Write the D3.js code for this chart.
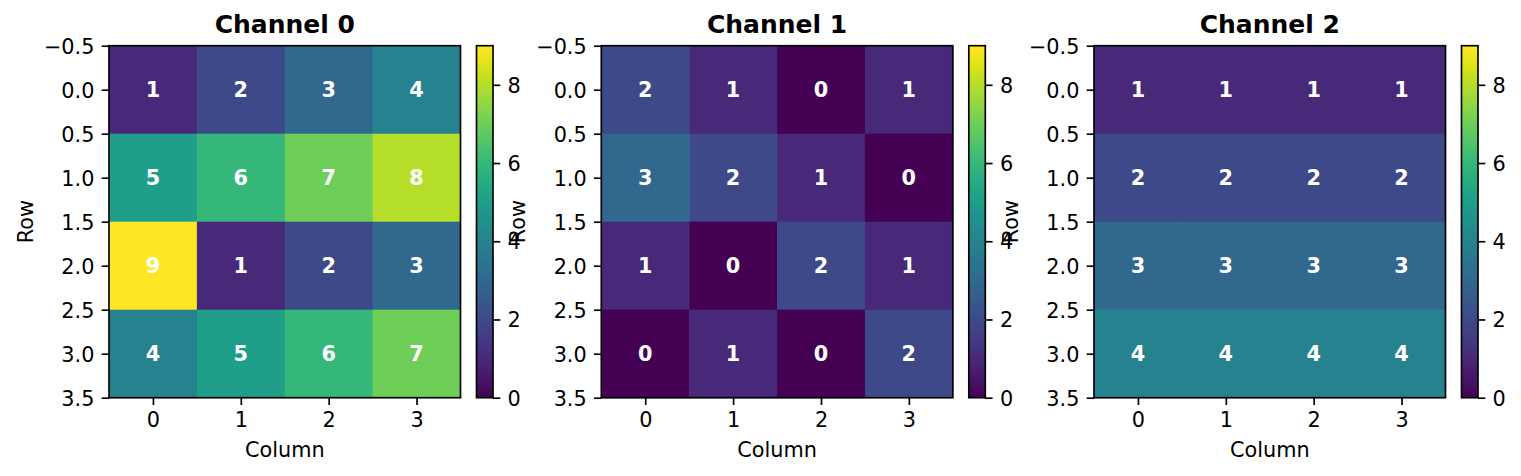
<!DOCTYPE html>
<html><head><meta charset="utf-8">
<script src="https://cdn.jsdelivr.net/npm/d3@7"></script>
<style>html,body{margin:0;padding:0;background:#fff;} svg{display:block;}</style>
</head><body>
<script>
const titles = ["Channel 0", "Channel 1", "Channel 2"];
const channel0 = [[1,2,3,4],[5,6,7,8],[9,1,2,3],[4,5,6,7]];
const channel1 = [[2,1,0,1],[3,2,1,0],[1,0,2,1],[0,1,0,2]];
const channel2 = [[1,1,1,1],[2,2,2,2],[3,3,3,3],[4,4,4,4]];
const channels = [channel0, channel1, channel2];
const xTicks = [0,1,2,3];
const yTicks = [-0.5,0,0.5,1,1.5,2,2.5,3,3.5];
const cbTicks = [0,2,4,6,8];
const vmin = 0, vmax = 9;
const xLabel = "Column", yLabel = "Row";

const W = 1521, H = 476;
const svg = d3.select("body").append("svg").attr("width", W).attr("height", H)
  .style("font-family", "'DejaVu Sans', sans-serif");

const axW = 351.5, axH = 352, axTop = 45.7;
const lefts = [109, 601.3, 1094];
const cbGap = 16, cbW = 16.5;
const lw = 1.67, tickLen = 7.3, pad = 7.3, fs = 20.8;
const color = v => d3.interpolateViridis((v - vmin) / (vmax - vmin));

const defs = svg.append("defs");
const grad = defs.append("linearGradient").attr("id", "vir")
  .attr("x1", 0).attr("y1", 1).attr("x2", 0).attr("y2", 0);
d3.range(0, 1.0001, 1/64).forEach(t => {
  grad.append("stop").attr("offset", t).attr("stop-color", d3.interpolateViridis(t));
});

channels.forEach((data, k) => {
  const L = lefts[k];
  const g = svg.append("g");
  const x = d3.scaleLinear().domain([-0.5, 3.5]).range([L, L + axW]);
  const y = d3.scaleLinear().domain([-0.5, 3.5]).range([axTop, axTop + axH]);
  const cells = [];
  data.forEach((row, r) => row.forEach((v, c) => cells.push({r, c, v})));
  g.selectAll("rect.cell").data(cells).join("rect")
    .attr("x", d => x(d.c - 0.5)).attr("y", d => y(d.r - 0.5))
    .attr("width", d => x(d.c + 0.5) - x(d.c - 0.5) + 0.5)
    .attr("height", d => y(d.r + 0.5) - y(d.r - 0.5) + 0.5)
    .attr("fill", d => color(d.v));
  g.selectAll("text.ann").data(cells).join("text")
    .attr("x", d => x(d.c)).attr("y", d => y(d.r)).attr("dy", "0.36em")
    .attr("text-anchor", "middle").attr("fill", "#fff")
    .attr("font-weight", "bold").attr("font-size", fs)
    .text(d => d.v);
  g.append("rect").attr("x", L).attr("y", axTop).attr("width", axW).attr("height", axH)
    .attr("fill", "none").attr("stroke", "#000").attr("stroke-width", lw);
  const xa = g.append("g").attr("transform", `translate(0,${axTop + axH})`)
    .call(d3.axisBottom(x).tickValues(xTicks).tickFormat(d3.format("d"))
      .tickSize(tickLen).tickPadding(pad));
  xa.select(".domain").remove();
  xa.selectAll("line").attr("stroke-width", lw);
  xa.selectAll("text").attr("font-size", fs).attr("font-family", "'DejaVu Sans', sans-serif")
    .attr("fill", "#000").attr("dy", "0.73em");
  const ya = g.append("g").attr("transform", `translate(${L},0)`)
    .call(d3.axisLeft(y).tickValues(yTicks).tickFormat(d3.format(".1f"))
      .tickSize(tickLen).tickPadding(pad));
  ya.select(".domain").remove();
  ya.selectAll("line").attr("stroke-width", lw);
  ya.selectAll("text").attr("font-size", fs).attr("font-family", "'DejaVu Sans', sans-serif")
    .attr("fill", "#000").attr("dy", "0.36em");
  g.append("text").attr("x", L + axW / 2).attr("y", axTop - 12.5)
    .attr("text-anchor", "middle").attr("font-weight", "bold").attr("font-size", 25)
    .text(titles[k]);
  g.append("text").attr("x", L + axW / 2).attr("y", 456.5)
    .attr("text-anchor", "middle").attr("font-size", fs).text(xLabel);
  g.append("text").attr("transform", `translate(${L - 76},${axTop + axH / 2}) rotate(-90)`)
    .attr("text-anchor", "middle").attr("font-size", fs).text(yLabel);
  const cbL = L + axW + cbGap;
  const cy = d3.scaleLinear().domain([vmin, vmax]).range([axTop + axH, axTop]);
  g.append("rect").attr("x", cbL).attr("y", axTop).attr("width", cbW).attr("height", axH)
    .attr("fill", "url(#vir)");
  g.append("rect").attr("x", cbL).attr("y", axTop).attr("width", cbW).attr("height", axH)
    .attr("fill", "none").attr("stroke", "#000").attr("stroke-width", lw);
  const ca = g.append("g").attr("transform", `translate(${cbL + cbW},0)`)
    .call(d3.axisRight(cy).tickValues(cbTicks).tickFormat(d3.format("d"))
      .tickSize(tickLen).tickPadding(pad));
  ca.select(".domain").remove();
  ca.selectAll("line").attr("stroke-width", lw);
  ca.selectAll("text").attr("font-size", fs).attr("font-family", "'DejaVu Sans', sans-serif")
    .attr("fill", "#000").attr("dy", "0.36em");
});
</script>
</body></html>
